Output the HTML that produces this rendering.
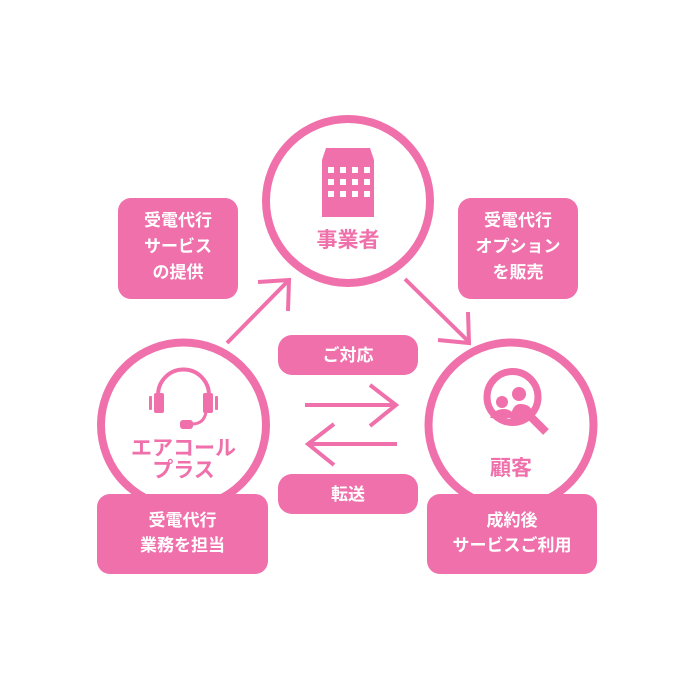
<!DOCTYPE html>
<html><head><meta charset="utf-8"><style>
body{margin:0;background:#fff;}
svg{display:block;}
text{font-family:"Liberation Sans","Noto Sans CJK JP",sans-serif;font-weight:bold;}
</style></head><body>
<svg width="700" height="690" viewBox="0 0 700 690">
<g fill="none" stroke="#ef70aa">
<circle cx="348" cy="201" r="82" stroke-width="8"/>
<circle cx="183.5" cy="425" r="82.5" stroke-width="8"/>
<circle cx="511" cy="425" r="82.5" stroke-width="8"/>
<g stroke-width="4" stroke-linecap="butt">
<line x1="227" y1="343" x2="288" y2="281"/>
<polyline points="258,282 289,280 288,311"/>
<line x1="405" y1="279" x2="469" y2="342"/>
<polyline points="438,340 469,343 468,312"/>
<line x1="305" y1="405" x2="396" y2="405"/>
<polyline points="370,385 396,405 370,426"/>
<line x1="308" y1="444" x2="397" y2="444"/>
<polyline points="334,424 308,444 334,465"/>
</g>
</g>
<g fill="#ef70aa">
<rect x="118" y="198" width="120" height="101" rx="13"/>
<rect x="458" y="198" width="120" height="101" rx="13"/>
<rect x="97" y="494" width="171" height="80" rx="13"/>
<rect x="427" y="494" width="170" height="80" rx="13"/>
<rect x="278" y="335" width="140" height="40" rx="14"/>
<rect x="278" y="474" width="140" height="40" rx="14"/>
<polygon points="322,160 326,148 370,148 374,160 374,217 322,217"/>
</g>
<g fill="#fff">
<rect x="328" y="167" width="6" height="6"/><rect x="340" y="167" width="6" height="6"/><rect x="352" y="167" width="6" height="6"/><rect x="364" y="167" width="6" height="6"/>
<rect x="328" y="179" width="6" height="6"/><rect x="340" y="179" width="6" height="6"/><rect x="352" y="179" width="6" height="6"/><rect x="364" y="179" width="6" height="6"/>
<rect x="328" y="191" width="6" height="6"/><rect x="340" y="191" width="6" height="6"/><rect x="352" y="191" width="6" height="6"/><rect x="364" y="191" width="6" height="6"/>
</g>
<g fill="#ef70aa" stroke="none">
<path d="M158,395 A25.5,25.5 0 0 1 209,395" fill="none" stroke="#ef70aa" stroke-width="4"/>
<rect x="154" y="393" width="10" height="20" rx="2"/>
<rect x="203" y="393" width="10" height="20" rx="2"/>
<rect x="149" y="396" width="3" height="14" rx="1"/>
<rect x="215" y="396" width="3" height="14" rx="1"/>
<path d="M206,412 Q204,424 192,424" fill="none" stroke="#ef70aa" stroke-width="3"/>
<rect x="180" y="420" width="13" height="9" rx="3"/>
</g>
<g>
<circle cx="512.5" cy="397" r="25.5" fill="none" stroke="#ef70aa" stroke-width="7"/>
<line x1="530" y1="416" x2="546" y2="432" stroke="#ef70aa" stroke-width="8"/>
<circle cx="502" cy="402" r="6" fill="#ef70aa"/>
<circle cx="519" cy="394" r="7" fill="#ef70aa"/>
<path d="M490,418 Q494,409 504,409 Q512,409 516,418 Z" fill="#ef70aa"/>
<path d="M510,420 Q512,404 520,404 Q530,404 533,412 Q528,420 518,423 Z" fill="#ef70aa"/>
</g>
<g fill="#ef70aa" text-anchor="middle" font-size="21">
<text x="348" y="247">事業者</text>
<text x="183.5" y="455">エアコール</text>
<text x="183.5" y="477">プラス</text>
<text x="511" y="475">顧客</text>
</g>
<g fill="#fff" text-anchor="middle" font-size="17">
<text x="178" y="226">受電代行</text>
<text x="178" y="252">サービス</text>
<text x="178" y="278">の提供</text>
<text x="518" y="226">受電代行</text>
<text x="518" y="252">オプション</text>
<text x="518" y="278">を販売</text>
<text x="182.5" y="526">受電代行</text>
<text x="182.5" y="551">業務を担当</text>
<text x="512" y="526">成約後</text>
<text x="512" y="551">サービスご利用</text>
<text x="348" y="361">ご対応</text>
<text x="348" y="500">転送</text>
</g>
</svg>
</body></html>
